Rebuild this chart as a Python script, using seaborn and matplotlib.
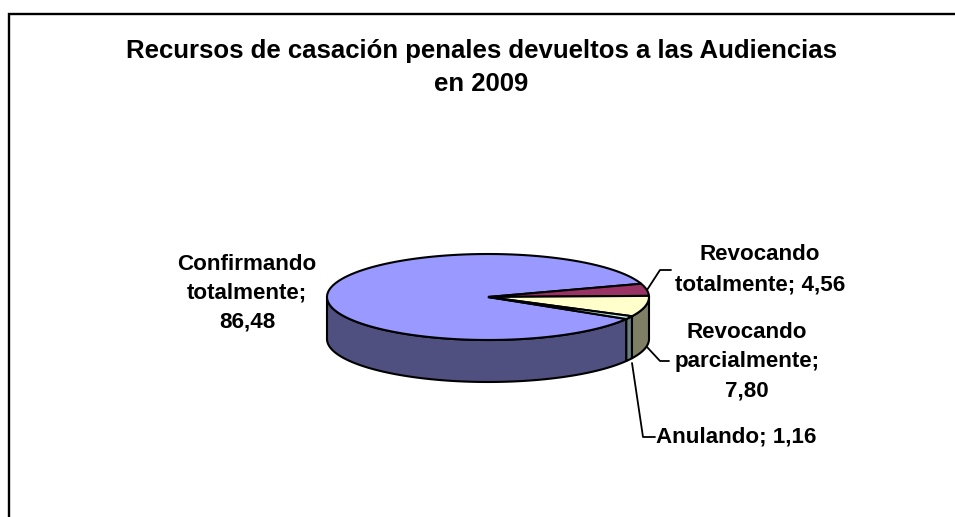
import numpy as np
import matplotlib.pyplot as plt
import seaborn as sns

# datos del grafico
categorias = ["Confirmando\ntotalmente;", "Revocando\ntotalmente;", "Revocando\nparcialmente;", "Anulando;"]
valores = [86.48, 4.56, 7.80, 1.16]
etiquetas = ["86,48", "4,56", "7,80", "1,16"]
titulo = "Recursos de casación penales devueltos a las Audiencias\nen 2009"

colores_arriba = ["#9999FF", "#993366", "#FFFFCC", "#CCFFFF"]
colores_lado = ["#4F4F80", "#4D1A33", "#7F7F66", "#668080"]

sns.set_theme(style="white")
plt.rcParams["font.family"] = ["Liberation Sans", "DejaVu Sans"]

fig, ax = plt.subplots(figsize=(9.55, 5.17), dpi=100)
fig.subplots_adjust(0, 0, 1, 1)
ax.set_xlim(0, 955)
ax.set_ylim(517, 0)
ax.axis("off")

# marco, cortado por la derecha y por abajo
ax.plot([9, 9, 955], [517, 14, 14], color="black", lw=1.7, solid_joinstyle="miter")

ax.text(481, 67.5, titulo, ha="center", va="center", fontsize=18.5, fontweight="bold",
        color="black", linespacing=1.52)

# pastel 3D: elipse + profundidad
cx, cy, rx, ry, alto = 488, 297, 161, 43, 42


def punto(ang):
    r = np.radians(ang)
    return cx + rx * np.cos(r), cy - ry * np.sin(r)


# va en sentido horario, Revocando totalmente empieza donde acaba Confirmando
grados = np.array(valores) * 3.6
giro = 1.5
inicio = {}
ang = grados[1] + giro
for i in [1, 2, 3, 0]:
    inicio[i] = (ang, ang - grados[i])
    ang -= grados[i]

# paredes visibles (solo la mitad de delante)
for i in [0, 3, 2]:
    a, b = inicio[i]
    a, b = min(a, 0), max(b, -180)
    if a <= b:
        continue
    t = np.linspace(a, b, 80)
    x, y = punto(t)
    ax.fill(np.r_[x, x[::-1]], np.r_[y, y[::-1] + alto], facecolor=colores_lado[i],
            edgecolor="black", lw=1.5, joinstyle="round", zorder=2)

# caras de arriba
for i in range(4):
    a, b = inicio[i]
    t = np.linspace(a, b, 200)
    x, y = punto(t)
    ax.fill(np.r_[cx, x], np.r_[cy, y], facecolor=colores_arriba[i],
            edgecolor="black", lw=1.5, joinstyle="miter", zorder=3)

estilo = dict(ha="center", va="center", fontsize=16.1, fontweight="bold", color="black", linespacing=1.5)
ax.text(247, 293, f"{categorias[0]}\n{etiquetas[0]}", **estilo)
ax.text(760, 255, categorias[1].split("\n")[0], **estilo)
ax.text(760, 285, f"{categorias[1].split(chr(10))[1]} {etiquetas[1]}", **estilo)
ax.text(747, 361.5, f"{categorias[2]}\n{etiquetas[2]}", **estilo)
ax.text(736, 437, f"{categorias[3]} {etiquetas[3]}", **estilo)

# lineas guia
guias = [([647, 660, 671], [290, 270, 270]),
         ([647, 660, 669], [347, 361, 361]),
         ([632, 643, 655], [363, 437, 437])]
for gx, gy in guias:
    ax.plot(gx, gy, color="black", lw=1.3, zorder=4)

fig.savefig("out.png", dpi=100)
